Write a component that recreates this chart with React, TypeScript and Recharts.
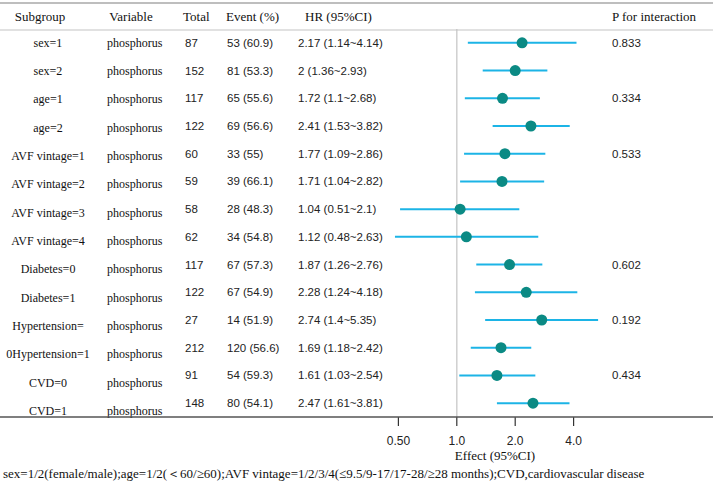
import React from 'react';
import {
  ComposedChart,
  Scatter,
  ErrorBar,
  XAxis,
  YAxis,
  ReferenceLine,
} from 'recharts';

const subgroups = [
  'sex=1',
  'sex=2',
  'age=1',
  'age=2',
  'AVF vintage=1',
  'AVF vintage=2',
  'AVF vintage=3',
  'AVF vintage=4',
  'Diabetes=0',
  'Diabetes=1',
  'Hypertension=',
  '0Hypertension=1',
  'CVD=0',
  'CVD=1',
];
const variable = 'phosphorus';
const totals = [87, 152, 117, 122, 60, 59, 58, 62, 117, 122, 27, 212, 91, 148];
const events = [53, 81, 65, 69, 33, 39, 28, 34, 67, 67, 14, 120, 54, 80];
const eventPct = ['60.9', '53.3', '55.6', '56.6', '55', '66.1', '48.3', '54.8', '57.3', '54.9', '51.9', '56.6', '59.3', '54.1'];
const hr = [2.17, 2, 1.72, 2.41, 1.77, 1.71, 1.04, 1.12, 1.87, 2.28, 2.74, 1.69, 1.61, 2.47];
const lower = [1.14, 1.36, 1.1, 1.53, 1.09, 1.04, 0.51, 0.48, 1.26, 1.24, 1.4, 1.18, 1.03, 1.61];
const upper = [4.14, 2.93, 2.68, 3.82, 2.86, 2.82, 2.1, 2.63, 2.76, 4.18, 5.35, 2.42, 2.54, 3.81];
const pInteraction = ['0.833', '', '0.334', '', '0.533', '', '', '', '0.602', '', '0.192', '', '0.434', ''];
const xTicks = [0.5, 1, 2, 4];
const xTickLabels = ['0.50', '1.0', '2.0', '4.0'];

const W = 713;
const H = 482;
const SERIF = '"Liberation Serif", "Times New Roman", serif';
const SANS = '"Liberation Sans", Arial, sans-serif';
const CI_COLOR = '#1cb4e6';
const DOT_COLOR = '#0b8a84';

const rows = subgroups.map((name, i) => ({
  row: i,
  hr: hr[i],
  ci: [hr[i] - lower[i], upper[i] - hr[i]],
}));

// every table row is drawn from the y-axis tick, so it sits on the same scale as its point
const renderRow = (props: any) => {
  const y = Number(props.y);
  const i = Math.round(Number(props.payload?.value ?? props.index));
  if (!Number.isFinite(y) || !(i >= 0 && i < subgroups.length)) return <g />;
  const labelY = y + i * 0.6;
  return (
    <g key={`row-${i}`}>
      <text x={48} y={labelY} textAnchor="middle" dominantBaseline="central" fontFamily={SERIF} fontSize={12} fill="#111">
        {subgroups[i]}
      </text>
      <text x={107} y={labelY} textAnchor="start" dominantBaseline="central" fontFamily={SERIF} fontSize={12} fill="#111">
        {variable}
      </text>
      <text x={185} y={y} dominantBaseline="central" fontFamily={SANS} fontSize={11.5} fill="#222">
        {totals[i]}
      </text>
      <text x={227} y={y} dominantBaseline="central" fontFamily={SANS} fontSize={11.5} fill="#222">
        {`${events[i]} (${eventPct[i]})`}
      </text>
      <text x={298} y={y} dominantBaseline="central" fontFamily={SANS} fontSize={11.5} fill="#222">
        {`${hr[i]} (${lower[i]}~${upper[i]})`}
      </text>
      {pInteraction[i] && (
        <text x={612} y={y} dominantBaseline="central" fontFamily={SANS} fontSize={11.5} fill="#222">
          {pInteraction[i]}
        </text>
      )}
    </g>
  );
};

const Dot = (props: any) => <circle cx={props.cx} cy={props.cy} r={5.5} fill={DOT_COLOR} />;

const App = () => {
  return (
    <div style={{ position: 'absolute', left: 0, top: 0, width: W, height: H, background: '#fff' }}>
      <ComposedChart
        width={W}
        height={H}
        data={rows}
        margin={{ top: 29, right: 81, bottom: 35, left: 300 }}
      >
        <XAxis
          type="number"
          dataKey="hr"
          scale="log"
          domain={[0.25, 8]}
          allowDataOverflow
          ticks={xTicks}
          tickFormatter={(v: number) => xTickLabels[xTicks.indexOf(v)] ?? String(v)}
          axisLine={false}
          tickLine={{ stroke: '#333', strokeWidth: 1.2 }}
          tickSize={9}
          tickMargin={10}
          height={30}
          tick={{ fontFamily: SANS, fontSize: 12, fill: '#222' }}
        />
        <YAxis
          type="number"
          dataKey="row"
          domain={[-0.5, 13.5]}
          reversed
          ticks={rows.map((r) => r.row)}
          interval={0}
          width={40}
          axisLine={false}
          tickLine={false}
          tick={renderRow}
        />
        <ReferenceLine x={1} stroke="#cfcfcf" strokeWidth={1.5} />
        <Scatter dataKey="hr" shape={<Dot />} isAnimationActive={false}>
          <ErrorBar dataKey="ci" direction="x" width={0} stroke={CI_COLOR} strokeWidth={2} />
        </Scatter>
      </ComposedChart>
      <svg width={W} height={H} style={{ position: 'absolute', left: 0, top: 0, pointerEvents: 'none' }}>
        <line x1={0} x2={W} y1={3} y2={3} stroke="#a8a8a8" strokeWidth={1.5} />
        <line x1={0} x2={W} y1={30} y2={30} stroke="#c4c4c4" strokeWidth={1.2} />
        <line x1={0} x2={W} y1={417} y2={417} stroke="#555" strokeWidth={1.5} />
        <g fontFamily={SERIF} fontSize={13} fill="#111" dominantBaseline="central">
          <text x={40} y={16} textAnchor="middle">Subgroup</text>
          <text x={131} y={16} textAnchor="middle">Variable</text>
          <text x={183} y={16}>Total</text>
          <text x={226} y={16}>Event (%)</text>
          <text x={305} y={16}>HR (95%CI)</text>
          <text x={612} y={16}>P for interaction</text>
          <text x={495} y={455} textAnchor="middle">Effect (95%CI)</text>
        </g>
        <text x={3} y={473} dominantBaseline="central" fontFamily={SERIF} fontSize={13} fill="#111">
          sex=1/2(female/male);age=1/2(＜60/≥60);AVF vintage=1/2/3/4(≤9.5/9-17/17-28/≥28 months);CVD,cardiovascular disease
        </text>
      </svg>
    </div>
  );
};

export default App;
